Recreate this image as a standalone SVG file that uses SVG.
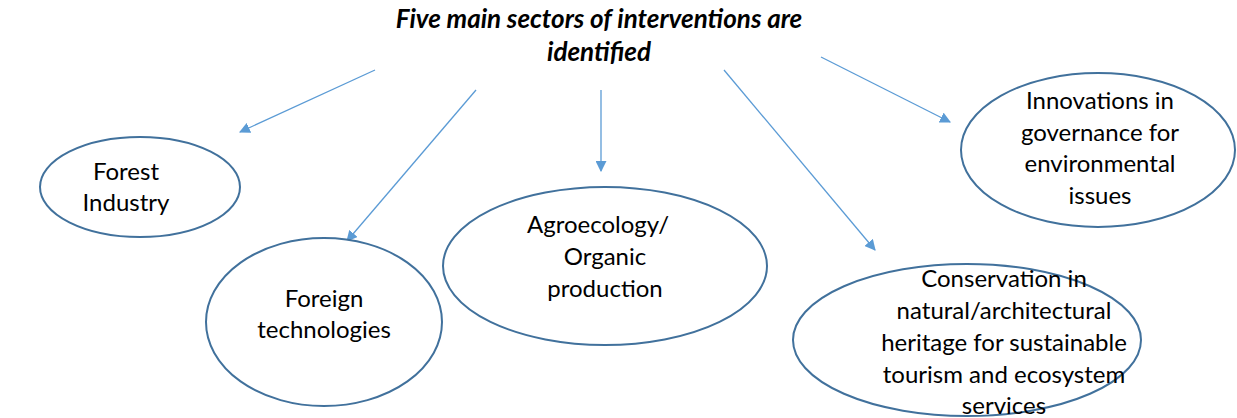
<svg xmlns="http://www.w3.org/2000/svg" width="1237" height="418" viewBox="0 0 1237 418">
  <style>
    .node { fill: #ffffff; stroke: #41719c; stroke-width: 2; }
    .label { font-family: Lato, "Liberation Sans", sans-serif; font-size: 24px; fill: #000000; text-anchor: middle; }
    .title { font-family: Lato, "Liberation Sans", sans-serif; font-size: 26px; font-weight: bold; font-style: italic; fill: #000000; text-anchor: middle; }
    .link { stroke: #5b9bd5; stroke-width: 1.3; fill: none; marker-end: url(#arrow); }
  </style>
  <defs>
    <marker id="arrow" viewBox="0 0 10 10" refX="9" refY="5" markerWidth="11" markerHeight="11" markerUnits="userSpaceOnUse" orient="auto">
      <path d="M0,0 L10,5 L0,10 z" fill="#5b9bd5"/>
    </marker>
  </defs>
  <rect width="1237" height="418" fill="#ffffff"/>

  <g id="title">
    <text class="title" x="599" y="28">Five main sectors of interventions are</text>
    <text class="title" x="599" y="61">identified</text>
  </g>

  <g id="connectors">
    <line class="link" x1="375" y1="70" x2="240" y2="132"/>
    <line class="link" x1="476" y1="90" x2="347" y2="241"/>
    <line class="link" x1="601" y1="90" x2="601" y2="171"/>
    <line class="link" x1="724" y1="70" x2="875" y2="250"/>
    <line class="link" x1="821" y1="57" x2="950" y2="122"/>
  </g>

  <g id="forest-industry">
    <ellipse class="node" cx="140" cy="187" rx="100" ry="50"/>
    <text class="label" x="126" y="180">Forest</text>
    <text class="label" x="126" y="211">Industry</text>
  </g>

  <g id="foreign-technologies">
    <ellipse class="node" cx="324" cy="322" rx="118" ry="84"/>
    <text class="label" x="324" y="307">Foreign</text>
    <text class="label" x="324" y="338">technologies</text>
  </g>

  <g id="agroecology">
    <ellipse class="node" cx="605" cy="266" rx="162" ry="79"/>
    <text class="label" x="598" y="233">Agroecology/</text>
    <text class="label" x="605" y="265">Organic</text>
    <text class="label" x="605" y="297">production</text>
  </g>

  <g id="governance">
    <ellipse class="node" cx="1098" cy="150" rx="137" ry="77"/>
    <text class="label" x="1100" y="109">Innovations in</text>
    <text class="label" x="1100" y="141">governance for</text>
    <text class="label" x="1100" y="172">environmental</text>
    <text class="label" x="1100" y="204">issues</text>
  </g>

  <g id="conservation">
    <ellipse class="node" cx="967" cy="340" rx="174" ry="76"/>
    <text class="label" x="1004" y="287">Conservation in</text>
    <text class="label" x="1004" y="319">natural/architectural</text>
    <text class="label" x="1004" y="351">heritage for sustainable</text>
    <text class="label" x="1004" y="383">tourism and ecosystem</text>
    <text class="label" x="1004" y="414">services</text>
  </g>
</svg>
